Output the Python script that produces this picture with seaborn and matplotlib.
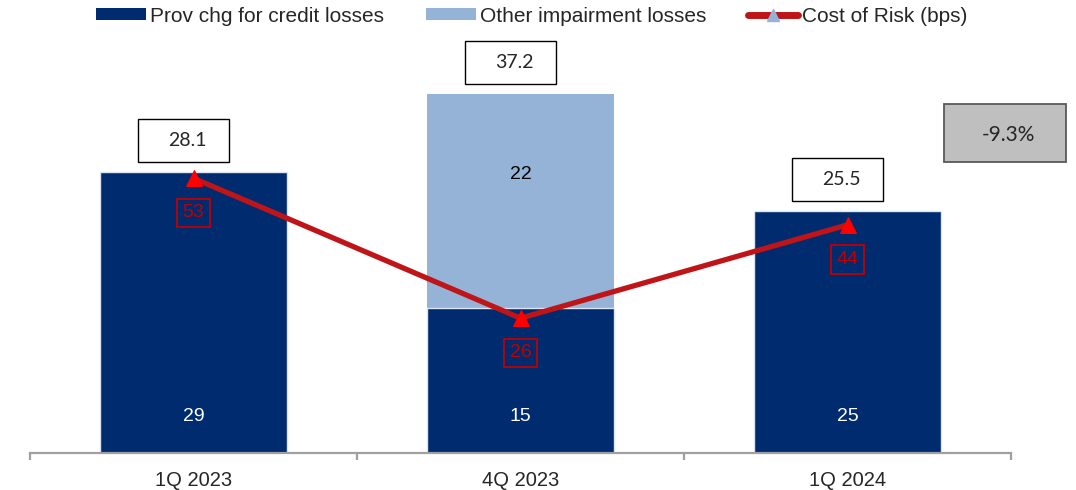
import numpy as np
import pandas as pd
import matplotlib
matplotlib.use("Agg")
import matplotlib.pyplot as plt
from matplotlib.patches import Patch, Rectangle
from matplotlib.lines import Line2D
import seaborn as sns

# ---- data -------------------------------------------------------------
quarters = ["1Q 2023", "4Q 2023", "1Q 2024"]
prov_credit = [29, 15, 25]          # provision charge for credit losses
other_impair = [0, 22, 0]           # other impairment losses
total_labels = ["28.1", "37.2", "25.5"]
cost_of_risk = [53, 26, 44]         # bps
change_label = "-9.3%"

# ---- style ------------------------------------------------------------
sns.set_style("white")
plt.rcParams["font.family"] = ["Liberation Sans", "DejaVu Sans"]

NAVY = "#002B6E"
LIGHT = "#95B3D7"
RED_LINE = "#C01518"
RED_MARK = "#FF0000"
RED_TXT = "#C00000"
GREY_AX = "#A0A0A0"

fig = plt.figure(figsize=(10.76, 4.90), dpi=100)
W, H = 1076, 490
ax = fig.add_axes([30 / W, 37 / H, 981 / W, 413 / H])
cat_px = 981 / len(quarters)

df = pd.DataFrame({
    "quarter": quarters,
    "credit": prov_credit,
    "stack": np.array(prov_credit) + np.array(other_impair),
})

bar_w = 0.569
sns.barplot(data=df, x="quarter", y="stack", color=LIGHT, saturation=1,
            width=bar_w, errorbar=None, ax=ax, linewidth=0)
sns.barplot(data=df, x="quarter", y="credit", color=NAVY, saturation=1,
            width=bar_w, errorbar=None, ax=ax, edgecolor="#DCE4EF", linewidth=1.0)

px = 9.7  # pixels per unit on the bar axis
ax.set_ylim(0, 413 / px)
ax.set_xlim(-0.5, len(quarters) - 0.5)

# axis cosmetics
for s in ["top", "right", "left"]:
    ax.spines[s].set_visible(False)
ax.spines["bottom"].set_color(GREY_AX)
ax.spines["bottom"].set_linewidth(1.6)
ax.set_yticks([])
ax.set_xlabel("")
ax.set_ylabel("")
ax.set_xticks(range(len(quarters)))
ax.set_xticklabels(quarters, fontsize=14.5)
ax.set_xticks(np.arange(-0.5, len(quarters)), minor=True)
ax.tick_params(axis="x", which="major", bottom=False, length=0, pad=13)
ax.tick_params(axis="x", which="minor", bottom=True, length=5, width=1.6,
               color=GREY_AX, direction="out")

# segment values
for i, v in enumerate(prov_credit):
    ax.annotate(f"{v}", xy=(i, 0), xytext=(0, 26), textcoords="offset points",
                ha="center", va="center", color="white", fontsize=14)
for i, v in enumerate(other_impair):
    if v > 0:
        ax.text(i, prov_credit[i] + v * 0.625, f"{v}", ha="center", va="center",
                color="black", fontsize=14)

# total boxes above the stacks
box_w = 91 / cat_px
box_h = 43 / px
for i, lab in enumerate(total_labels):
    top = prov_credit[i] + other_impair[i]
    y0 = top + 10 / px
    cx = i - 10 / cat_px
    ax.add_patch(Rectangle((cx - box_w / 2, y0), box_w, box_h, facecolor="white",
                           edgecolor="black", linewidth=1.0, clip_on=False, zorder=5))
    ax.text(cx + 4 / cat_px, y0 + box_h / 2, lab, ha="center", va="center",
            fontsize=14, family=["Lato", "DejaVu Sans"], zorder=6)

# cost of risk line on a secondary scale
ax2 = ax.twinx()
sns.lineplot(x=np.arange(len(quarters)), y=cost_of_risk, ax=ax2, color=RED_LINE,
             linewidth=3.8, marker="^", markersize=11, markerfacecolor=RED_MARK,
             markeredgecolor=RED_MARK, zorder=4)
ax2.set_ylim(0, 413 / 5.185)
ax2.set_xlim(-0.5, len(quarters) - 0.5)
ax2.set_yticks([])
ax2.set_ylabel("")
for s in ["top", "right", "left", "bottom"]:
    ax2.spines[s].set_visible(False)

for i, v in enumerate(cost_of_risk):
    ax2.annotate(f"{v}", xy=(i, v), xytext=(0, -25), textcoords="offset points",
                 ha="center", va="center", color=RED_TXT, fontsize=14,
                 bbox=dict(boxstyle="square,pad=0.3", facecolor="none",
                           edgecolor=RED_TXT, linewidth=1.3))

# change box at the right edge
fig.patches.append(Rectangle((944 / W, 1 - 162 / H), 122 / W, 58 / H,
                             transform=fig.transFigure, facecolor="#BFBFBF",
                             edgecolor="#595959", linewidth=1.3, figure=fig))
fig.text(1008 / W, 1 - 135 / H, change_label, ha="center", va="center",
         fontsize=15, family=["Lato", "DejaVu Sans"])

# legend
handles = [
    Patch(facecolor=NAVY, edgecolor="none", label="Prov chg for credit losses"),
    Patch(facecolor=LIGHT, edgecolor="none", label="Other impairment losses"),
    Line2D([0], [0], color=RED_LINE, linewidth=5, marker="^", markersize=9,
           markerfacecolor=LIGHT, markeredgecolor=LIGHT, label="Cost of Risk (bps)"),
]
fig.legend(handles=handles, loc="center", bbox_to_anchor=(532 / W, 1 - 16 / H),
           ncol=3, frameon=False, fontsize=15, handlelength=2.4, handleheight=0.45,
           handletextpad=0.2, columnspacing=2.0, borderaxespad=0, borderpad=0)

fig.savefig("out.png", dpi=100)
